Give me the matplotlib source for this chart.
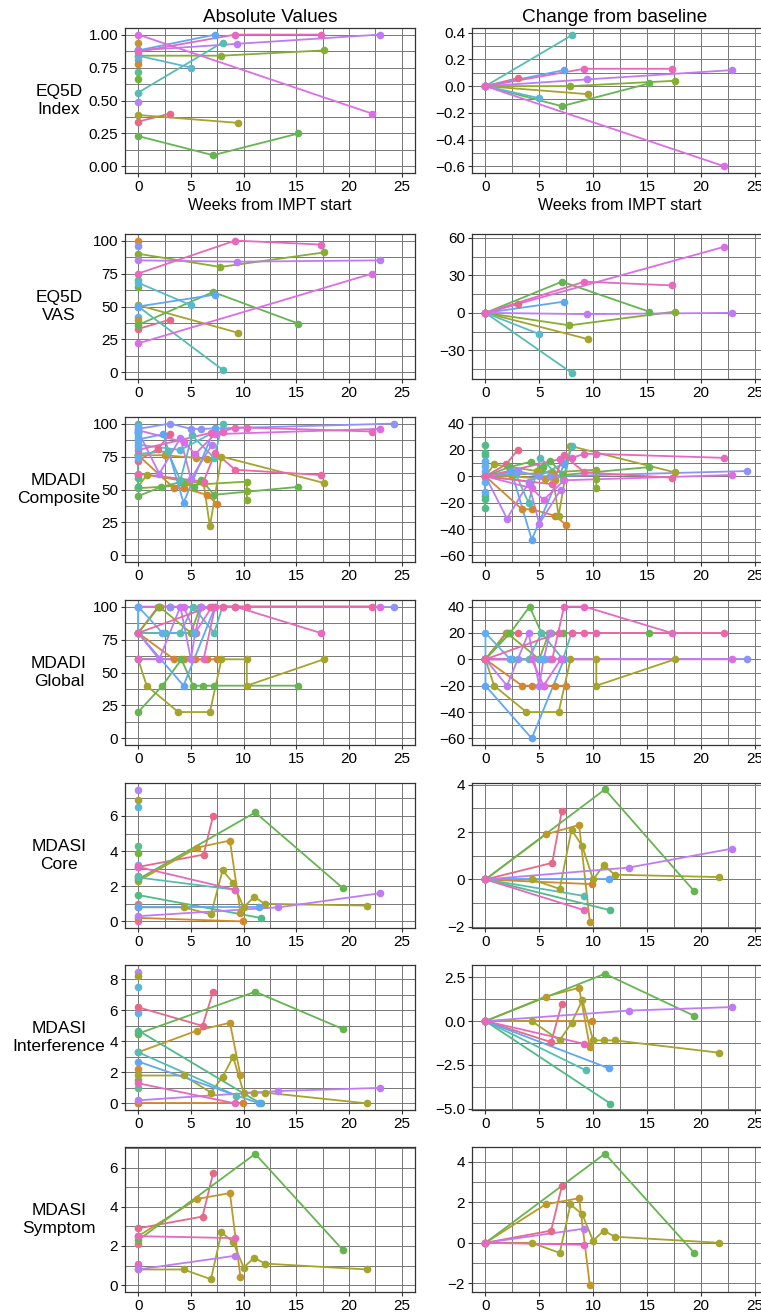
import matplotlib
matplotlib.use('Agg')
import matplotlib.pyplot as plt
from matplotlib.ticker import MultipleLocator

plt.rcParams['font.family'] = ['Liberation Sans', 'DejaVu Sans']

# Figure size in pixels
FIG_W = 761
FIG_H = 1314

# one colour per subject (hue palette)
SUBJECT_COLORS = {
    'S01': '#e7698a', 'S02': '#d4862e', 'S03': '#bf982b', 'S04': '#a5a42c',
    'S05': '#86ae31', 'S06': '#66b550', 'S07': '#50bb86', 'S08': '#56bdb2',
    'S09': '#5ab8d4', 'S10': '#5fa7f5', 'S11': '#8e93f8', 'S12': '#bf7bf6',
    'S13': '#dc6de6', 'S14': '#e868be', 'S15': '#62aef0', 'S16': '#ec67a5',
    'S17': '#70b43a', 'S18': '#b584f7', 'S19': '#aaa12a', 'S20': '#5cbf8c',
    'S21': '#e8737f', 'S22': '#e866c4', 'S23': '#d5892f',
}

# ---------------- EQ5D Index ----------------
eq5d_index_abs = {
    'S01': ([0, 3.0], [0.34, 0.40]),
    'S04': ([0, 9.5], [0.39, 0.33]),
    'S05': ([0, 7.9, 17.6], [0.84, 0.84, 0.88]),
    'S06': ([0, 7.1, 15.2], [0.23, 0.085, 0.25]),
    'S08': ([0, 8.0], [0.56, 0.94]),
    'S09': ([0, 5.0], [0.84, 0.75]),
    'S10': ([0, 7.3], [0.88, 1.00]),
    'S12': ([0, 9.4, 22.9], [0.88, 0.93, 1.00]),
    'S13': ([0, 22.2], [1.00, 0.40]),
    'S14': ([0, 9.2, 17.3], [0.87, 1.00, 1.00]),
}
eq5d_index_base = {'S03': 0.94, 'S11': 0.88, 'S15': 0.81, 'S23': 0.78,
                   'S20': 0.72, 'S17': 0.66, 'S18': 0.49}
eq5d_index_chg = {
    'S01': ([0, 3.0], [0, 0.06]),
    'S04': ([0, 9.5], [0, -0.06]),
    'S05': ([0, 7.9, 17.6], [0, 0.0, 0.04]),
    'S06': ([0, 7.1, 15.2], [0, -0.15, 0.02]),
    'S08': ([0, 8.0], [0, 0.38]),
    'S09': ([0, 5.0], [0, -0.09]),
    'S10': ([0, 7.3], [0, 0.12]),
    'S12': ([0, 9.4, 22.9], [0, 0.05, 0.12]),
    'S13': ([0, 22.2], [0, -0.60]),
    'S14': ([0, 9.2, 17.3], [0, 0.13, 0.13]),
}

# ---------------- EQ5D VAS ----------------
eq5d_vas_abs = {
    'S01': ([0, 3.0], [33, 40]),
    'S04': ([0, 9.5], [51, 30]),
    'S05': ([0, 7.8, 17.6], [90, 80, 91]),
    'S06': ([0, 7.1, 15.2], [36, 61, 37]),
    'S08': ([0, 8.0], [50, 2]),
    'S09': ([0, 5.0], [68, 51]),
    'S10': ([0, 7.3], [50, 59]),
    'S12': ([0, 9.4, 22.9], [85, 84, 85]),
    'S13': ([0, 22.2], [22, 75]),
    'S14': ([0, 9.2, 17.3], [75, 100, 97]),
}
eq5d_vas_base = {'S23': 100, 'S11': 96, 'S20': 70, 'S17': 65, 'S15': 42, 'S03': 40}
eq5d_vas_chg = {
    'S01': ([0, 3.0], [0, 7]),
    'S04': ([0, 9.5], [0, -21]),
    'S05': ([0, 7.8, 17.6], [0, -10, 1]),
    'S06': ([0, 7.1, 15.2], [0, 25, 1]),
    'S08': ([0, 8.0], [0, -48]),
    'S09': ([0, 5.0], [0, -17]),
    'S10': ([0, 7.3], [0, 9]),
    'S12': ([0, 9.4, 22.9], [0, -1, 0]),
    'S13': ([0, 22.2], [0, 53]),
    'S14': ([0, 9.2, 17.3], [0, 25, 22]),
}

# ---------------- MDADI Composite ----------------
mdadi_comp_abs = {
    'S01': ([0, 1.9, 3.0], [72, 81, 92]),
    'S02': ([0, 3.4, 4.3, 6.5, 7.5], [76, 51, 51, 46, 39]),
    'S03': ([0, 2.5, 5.5, 6.5], [76, 76, 74, 73]),
    'S04': ([0, 0.8, 4.8, 6.2, 6.8, 7.9, 17.6], [52, 61, 56, 55, 22, 75, 55]),
    'S05': ([0, 10.3, 10.3, 10.3], [51, 56, 49, 42]),
    'S06': ([0, 2.2, 4.2, 5.3, 6.0, 7.2, 15.2], [45, 52, 56, 52, 57, 46, 52]),
    'S07': ([0, 0, 0, 0, 0, 0, 0], [76, 100, 94, 92, 61, 59, 52]),
    'S08': ([0, 2.8, 4.0, 5.1, 7.2, 8.0], [77, 79, 57, 91, 74, 100]),
    'S09': ([0, 4.0, 7.3], [84, 80, 94]),
    'S10': ([0, 2.4, 4.3, 7.3], [88, 92, 40, 97]),
    'S11': ([0, 3.0, 5.0, 6.0, 24.3], [96, 100, 96, 96, 100]),
    'S12': ([0, 2.0, 4.0, 5.0, 7.0], [94, 62, 89, 58, 84]),
    'S13': ([0, 4.3, 5.4, 7.3, 22.9], [95, 86, 77, 92, 96]),
    'S14': ([0, 6.9, 8.0, 9.2, 10.3, 22.2], [80, 93, 94, 97, 97, 94]),
    'S15': ([0, 0, 0, 0, 0, 0], [86, 98, 94, 90, 82, 74]),
    'S16': ([0, 6.2, 7.3, 9.2, 17.3], [62, 56, 78, 65, 61]),
}
mdadi_comp_chg = {
    'S01': ([0, 1.9, 3.0], [0, 9, 20]),
    'S02': ([0, 3.4, 4.3, 6.5, 7.5], [0, -25, -25, -30, -37]),
    'S03': ([0, 2.5, 5.5, 6.5], [0, 0, -2, -3]),
    'S04': ([0, 0.8, 4.8, 6.2, 6.8, 7.9, 17.6], [0, 9, 4, 3, -30, 23, 3]),
    'S05': ([0, 10.3, 10.3, 10.3], [0, 5, -2, -9]),
    'S06': ([0, 2.2, 4.2, 5.3, 6.0, 7.2, 15.2], [0, 7, 11, 7, 12, 1, 7]),
    'S07': ([0, 0, 0, 0, 0, 0, 0], [0, 24, 18, 16, -15, -17, -24]),
    'S08': ([0, 2.8, 4.0, 5.1, 7.2, 8.0], [0, 2, -20, 14, -3, 23]),
    'S09': ([0, 4.0, 7.3], [0, -4, 10]),
    'S10': ([0, 2.4, 4.3, 7.3], [0, 4, -48, 9]),
    'S11': ([0, 3.0, 5.0, 6.0, 24.3], [0, 4, 0, 0, 4]),
    'S12': ([0, 2.0, 4.0, 5.0, 7.0], [0, -32, -5, -36, -10]),
    'S13': ([0, 4.3, 5.4, 7.3, 22.9], [0, -9, -18, -3, 1]),
    'S14': ([0, 6.9, 8.0, 9.2, 10.3, 22.2], [0, 13, 14, 17, 17, 14]),
    'S15': ([0, 0, 0, 0, 0, 0], [0, 12, 8, 4, -4, -12]),
    'S16': ([0, 6.2, 7.3, 9.2, 17.3], [0, -6, 16, 3, -1]),
}

# ---------------- MDADI Global ----------------
mdadi_glob_abs = {
    'S01': ([0, 1.9, 2.1, 3.0], [80, 100, 100, 100]),
    'S02': ([0, 3.4, 4.3, 5.4, 6.5, 7.5], [80, 60, 60, 60, 60, 60]),
    'S03': ([0, 2.5, 5.5], [80, 80, 80]),
    'S04': ([0, 0.8, 3.8, 6.8, 7.9, 10.3, 10.3, 17.6], [60, 40, 20, 20, 60, 60, 40, 60]),
    'S05': ([0, 2.0, 5.0, 5.9], [80, 100, 80, 100]),
    'S06': ([0, 2.3, 4.1, 5.2, 6.1, 7.2, 15.2], [20, 40, 60, 40, 40, 40, 40]),
    'S08': ([0, 2.5, 4.0, 5.2, 7.2, 8.0], [80, 80, 80, 100, 80, 100]),
    'S09': ([0, 5.0], [60, 60]),
    'S10': ([0, 0, 4.3, 7.3], [100, 80, 40, 100]),
    'S11': ([0, 3.0, 6.0, 7.0, 24.3], [100, 100, 100, 100, 100]),
    'S12': ([0, 2.0, 4.0, 5.0, 5.4, 6.0], [80, 60, 100, 60, 80, 100]),
    'S13': ([0, 4.3, 5.4, 7.0, 22.9], [100, 100, 80, 100, 100]),
    'S14': ([0, 6.2, 7.3, 9.2, 17.3], [60, 60, 100, 100, 80]),
    'S15': ([0, 0, 2.3, 5.3], [80, 100, 80, 80]),
    'S16': ([0, 6.8, 8.0, 9.2, 10.3, 22.2], [80, 100, 100, 100, 100, 100]),
}
mdadi_glob_chg = {
    'S01': ([0, 1.9, 2.1, 3.0], [0, 20, 20, 20]),
    'S02': ([0, 3.4, 4.3, 5.4, 6.5, 7.5], [0, -20, -20, -20, -20, -20]),
    'S03': ([0, 2.5, 5.5], [0, 0, 0]),
    'S04': ([0, 0.8, 3.8, 6.8, 7.9, 10.3, 10.3, 17.6], [0, -20, -40, -40, 0, 0, -20, 0]),
    'S05': ([0, 2.0, 5.0, 5.9], [0, 20, 0, 20]),
    'S06': ([0, 2.3, 4.1, 5.2, 6.1, 7.2, 15.2], [0, 20, 40, 20, 20, 20, 20]),
    'S08': ([0, 2.5, 4.0, 5.2, 7.2, 8.0], [0, 0, 0, 20, 0, 20]),
    'S09': ([0, 5.0], [0, 0]),
    'S10': ([0, 0, 4.3, 7.3], [0, -20, -60, 0]),
    'S11': ([0, 3.0, 6.0, 7.0, 24.3], [0, 0, 0, 0, 0]),
    'S12': ([0, 2.0, 4.0, 5.0, 5.4, 6.0], [0, -20, 20, -20, 0, 20]),
    'S13': ([0, 4.3, 5.4, 7.0, 22.9], [0, 0, -20, 0, 0]),
    'S14': ([0, 6.2, 7.3, 9.2, 17.3], [0, 0, 40, 40, 20]),
    'S15': ([0, 0, 2.3, 5.3], [0, 20, 0, 0]),
    'S16': ([0, 6.8, 8.0, 9.2, 10.3, 22.2], [0, 20, 20, 20, 20, 20]),
}

# ---------------- MDASI Core ----------------
mdasi_core_abs = {
    'S01': ([0, 6.2, 7.1], [3.1, 3.8, 6.0]),
    'S02': ([0, 9.9], [0.2, 0.0]),
    'S03': ([0, 5.6, 8.7, 9.7], [2.3, 4.2, 4.6, 0.5]),
    'S04': ([0, 4.3, 6.9, 8.0, 9.0, 10.0, 11.0, 12.0, 21.7],
            [0.8, 0.8, 0.4, 2.9, 2.2, 0.8, 1.4, 1.0, 0.9]),
    'S06': ([0, 11.1, 19.4], [2.4, 6.2, 1.9]),
    'S07': ([0, 11.6], [1.5, 0.2]),
    'S08': ([0, 9.2], [2.5, 1.8]),
    'S10': ([0, 11.5], [0.8, 0.8]),
    'S12': ([0, 13.3, 22.9], [0.3, 0.8, 1.6]),
    'S14': ([0, 9.2], [3.1, 1.8]),
}
mdasi_core_base = {'S18': 7.5, 'S19': 6.9, 'S09': 6.5, 'S20': 4.3, 'S17': 3.9,
                   'S15': 3.2, 'S23': 2.6, 'S21': 1.0, 'S22': 0.0}
mdasi_core_chg = {
    'S01': ([0, 6.2, 7.1], [0, 0.7, 2.9]),
    'S02': ([0, 9.9], [0, -0.2]),
    'S03': ([0, 5.6, 8.7, 9.7], [0, 1.9, 2.3, -1.8]),
    'S04': ([0, 4.3, 6.9, 8.0, 9.0, 10.0, 11.0, 12.0, 21.7],
            [0, 0, -0.4, 2.1, 1.4, 0, 0.6, 0.2, 0.1]),
    'S06': ([0, 11.1, 19.4], [0, 3.8, -0.5]),
    'S07': ([0, 11.6], [0, -1.3]),
    'S08': ([0, 9.2], [0, -0.7]),
    'S10': ([0, 11.5], [0, 0]),
    'S12': ([0, 13.3, 22.9], [0, 0.5, 1.3]),
    'S14': ([0, 9.2], [0, -1.3]),
}

# ---------------- MDASI Interference ----------------
mdasi_int_abs = {
    'S01': ([0, 6.1, 7.1], [6.2, 5.0, 7.2]),
    'S02': ([0, 9.9], [0.0, 0.0]),
    'S03': ([0, 5.6, 8.7, 9.7], [3.3, 4.7, 5.2, 1.8]),
    'S04': ([0, 4.3, 6.9, 8.0, 9.0, 10.0, 11.0, 12.0, 21.7],
            [1.8, 1.8, 0.7, 1.7, 3.0, 0.7, 0.7, 0.7, 0.0]),
    'S06': ([0, 11.1, 19.4], [4.5, 7.2, 4.8]),
    'S07': ([0, 11.6], [4.7, 0.0]),
    'S08': ([0, 9.3], [3.3, 0.5]),
    'S10': ([0, 11.5], [2.7, 0.0]),
    'S12': ([0, 13.3, 22.9], [0.2, 0.8, 1.0]),
    'S14': ([0, 9.2], [1.3, 0.0]),
}
mdasi_int_base = {'S18': 8.5, 'S19': 8.2, 'S09': 7.5, 'S15': 5.8, 'S23': 2.2,
                  'S17': 1.5, 'S20': 1.0, 'S22': 0.0}
mdasi_int_chg = {
    'S01': ([0, 6.1, 7.1], [0, -1.2, 1.0]),
    'S02': ([0, 9.9], [0, 0]),
    'S03': ([0, 5.6, 8.7, 9.7], [0, 1.4, 1.9, -1.5]),
    'S04': ([0, 4.3, 6.9, 8.0, 9.0, 10.0, 11.0, 12.0, 21.7],
            [0, 0, -1.1, -0.1, 1.2, -1.1, -1.1, -1.1, -1.8]),
    'S06': ([0, 11.1, 19.4], [0, 2.7, 0.3]),
    'S07': ([0, 11.6], [0, -4.7]),
    'S08': ([0, 9.3], [0, -2.8]),
    'S10': ([0, 11.5], [0, -2.7]),
    'S12': ([0, 13.3, 22.9], [0, 0.6, 0.8]),
    'S14': ([0, 9.2], [0, -1.3]),
}

# ---------------- MDASI Symptom ----------------
mdasi_sym_abs = {
    'S01': ([0, 6.1, 7.1], [2.9, 3.5, 5.7]),
    'S03': ([0, 5.6, 8.7, 9.7], [2.5, 4.4, 4.7, 0.4]),
    'S04': ([0, 4.3, 6.9, 7.9, 9.0, 10.0, 11.0, 12.0, 21.7],
            [0.8, 0.8, 0.3, 2.7, 2.2, 0.9, 1.4, 1.1, 0.8]),
    'S06': ([0, 11.1, 19.4], [2.3, 6.7, 1.8]),
    'S12': ([0, 9.2], [0.8, 1.5]),
    'S14': ([0, 9.2], [2.5, 2.4]),
}
mdasi_sym_base = {'S21': 2.1, 'S22': 1.1}
mdasi_sym_chg = {
    'S01': ([0, 6.1, 7.1], [0, 0.6, 2.8]),
    'S03': ([0, 5.6, 8.7, 9.7], [0, 1.9, 2.2, -2.1]),
    'S04': ([0, 4.3, 6.9, 7.9, 9.0, 10.0, 11.0, 12.0, 21.7],
            [0, 0, -0.5, 1.9, 1.4, 0.1, 0.6, 0.3, 0]),
    'S06': ([0, 11.1, 19.4], [0, 4.4, -0.5]),
    'S12': ([0, 9.2], [0, 0.7]),
    'S14': ([0, 9.2], [0, -0.1]),
}

ROW_LABELS = ['EQ5D\nIndex', 'EQ5D\nVAS', 'MDADI\nComposite', 'MDADI\nGlobal',
              'MDASI\nCore', 'MDASI\nInterference', 'MDASI\nSymptom']

# (abs data, baseline-only points, change data, abs ylim, abs major/minor, chg ylim, chg major/minor)
ROWS = [
    (eq5d_index_abs, eq5d_index_base, eq5d_index_chg, (-0.05, 1.05), (0.25, 0.125), (-0.65, 0.435), (0.2, 0.1)),
    (eq5d_vas_abs, eq5d_vas_base, eq5d_vas_chg, (-5, 105), (25, 12.5), (-53, 63.2), (30, 15)),
    (mdadi_comp_abs, {}, mdadi_comp_chg, (-5, 105), (25, 12.5), (-65, 45), (20, 10)),
    (mdadi_glob_abs, {}, mdadi_glob_chg, (-5, 105), (25, 12.5), (-65, 45), (20, 10)),
    (mdasi_core_abs, mdasi_core_base, mdasi_core_chg, (-0.375, 7.875), (2, 1), (-2.05, 4.07), (2, 1)),
    (mdasi_int_abs, mdasi_int_base, mdasi_int_chg, (-0.425, 8.925), (2, 1), (-5.07, 3.2), (2.5, 1.25)),
    (mdasi_sym_abs, mdasi_sym_base, mdasi_sym_chg, (-0.35, 7.05), (2, 1), (-2.43, 4.73), (2, 1)),
]

ROW_TOPS = [28, 234, 417, 600, 783, 965, 1147]
ROW_H = 145
LEFT_X = (125, 415)
RIGHT_X = (472, 768)
TICK_SIZE = 11


def px_rect(x0, x1, top, height):
    return [x0 / FIG_W, 1 - (top + height) / FIG_H, (x1 - x0) / FIG_W, height / FIG_H]


def style_axes(ax, ylim, ysteps):
    ax.set_xlim(-1.25, 26.25)
    ax.set_ylim(*ylim)
    ax.xaxis.set_major_locator(MultipleLocator(5))
    ax.xaxis.set_minor_locator(MultipleLocator(2.5))
    ax.yaxis.set_major_locator(MultipleLocator(ysteps[0]))
    ax.yaxis.set_minor_locator(MultipleLocator(ysteps[1]))
    ax.grid(True, which='both', color='#777777', linewidth=0.7)
    ax.set_axisbelow(True)
    for sp in ax.spines.values():
        sp.set_color('#333333')
        sp.set_linewidth(0.9)
    ax.tick_params(which='major', direction='out', length=3, width=0.8,
                   color='#333333', labelsize=TICK_SIZE, labelcolor='black', pad=2)
    ax.tick_params(which='minor', length=0)


def draw_series(ax, data, base=None):
    keys = sorted(data)
    for k in keys:
        xs, ys = data[k]
        order = sorted(range(len(xs)), key=lambda i: xs[i])
        xs = [xs[i] for i in order]
        ys = [ys[i] for i in order]
        ax.plot(xs, ys, color=SUBJECT_COLORS[k], linewidth=1.3, zorder=2)
    if base:
        for k, v in base.items():
            ax.plot([0], [v], 'o', color=SUBJECT_COLORS[k], markersize=5.5,
                    markeredgewidth=0, zorder=3)
    for k in keys:
        xs, ys = data[k]
        ax.plot(xs, ys, 'o', color=SUBJECT_COLORS[k], markersize=5.5,
                markeredgewidth=0, zorder=3)


fig = plt.figure(figsize=(FIG_W / 100, FIG_H / 100), dpi=100)

for r, (abs_d, base_d, chg_d, aylim, asteps, cylim, csteps) in enumerate(ROWS):
    top = ROW_TOPS[r]
    ax_l = fig.add_axes(px_rect(*LEFT_X, top, ROW_H))
    ax_r = fig.add_axes(px_rect(*RIGHT_X, top, ROW_H))
    style_axes(ax_l, aylim, asteps)
    style_axes(ax_r, cylim, csteps)
    draw_series(ax_l, abs_d, base_d)
    draw_series(ax_r, chg_d)
    if r == 0:
        ax_l.set_xlabel('Weeks from IMPT start', fontsize=11.5, labelpad=3)
        ax_r.set_xlabel('Weeks from IMPT start', fontsize=11.5, labelpad=3)
    fig.text(59 / FIG_W, 1 - (top + ROW_H / 2) / FIG_H, ROW_LABELS[r],
             ha='center', va='center', multialignment='center', fontsize=12.5,
             linespacing=1.2)

fig.text((LEFT_X[0] + LEFT_X[1]) / 2 / FIG_W, 1 - 17 / FIG_H, 'Absolute Values',
         ha='center', va='center', fontsize=13.6)
fig.text(615 / FIG_W, 1 - 18 / FIG_H, 'Change from baseline',
         ha='center', va='center', fontsize=13.7)

fig.savefig('out.png', dpi=100)
